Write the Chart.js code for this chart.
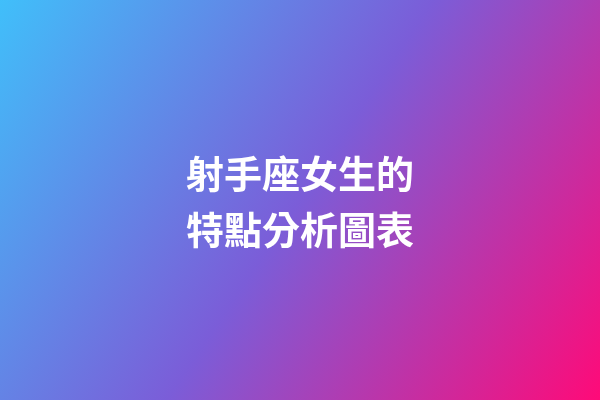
<!DOCTYPE html>
<html>
<head>
<meta charset="utf-8">
<script src="https://cdn.jsdelivr.net/npm/chart.js@4/dist/chart.umd.min.js"></script>
<style>
  html, body { margin: 0; padding: 0; }
  #wrap { width: 600px; height: 400px; position: relative; }
</style>
</head>
<body>
<div id="wrap"><canvas id="chart"></canvas></div>
<script>
// 標題文字 (圖上只有標題, 沒有數據點)
const titleLines = ['射手座女生的', '特點分析圖表'];
const categories = [];
const values = [];

// 背景漸層: 左上藍 → 中間紫 → 右下粉紅
const gradientStops = [
    [0, '#40bffa'],
    [0.5, '#7b5dd8'],
    [1, '#ff0a78']
];

const bgPlugin = {
    id: 'bgGradient',
    beforeDraw(chart) {
        const { ctx, width, height } = chart;
        const g = ctx.createLinearGradient(0, 0, width, height);
        gradientStops.forEach(([p, c]) => g.addColorStop(p, c));
        ctx.save();
        ctx.fillStyle = g;
        ctx.fillRect(0, 0, width, height);
        ctx.restore();
    }
};

new Chart(document.getElementById('chart'), {
    type: 'bar',
    data: {
        labels: categories,
        datasets: [{ data: values }]
    },
    options: {
        responsive: true,
        maintainAspectRatio: false,
        animation: false,
        scales: {
            x: { display: false },
            y: { display: false }
        },
        plugins: {
            legend: { display: false },
            tooltip: { enabled: false },
            title: {
                display: true,
                text: titleLines,
                color: '#ffffff',
                font: { family: "'Noto Sans CJK TC', sans-serif", size: 38, weight: 'bold', lineHeight: 1.47 },
                padding: { top: 146, bottom: 0 }
            }
        }
    },
    plugins: [bgPlugin]
});
</script>
</body>
</html>
